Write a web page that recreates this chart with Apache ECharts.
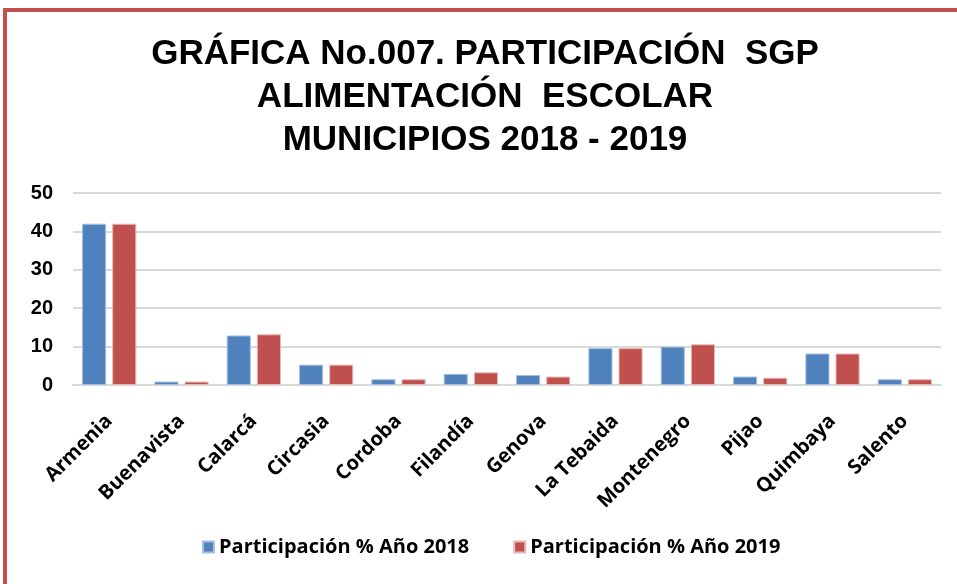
<!DOCTYPE html>
<html>
<head>
<meta charset="utf-8">
<script src="https://cdn.jsdelivr.net/npm/echarts@6/dist/echarts.min.js"></script>
<style>
  html, body { margin: 0; padding: 0; background: #fff; }
  #chart { width: 957px; height: 584px; }
</style>
</head>
<body>
<div id="chart"></div>
<script>
var municipios = ['Armenia', 'Buenavista', 'Calarcá', 'Circasia', 'Cordoba', 'Filandía', 'Genova', 'La Tebaida', 'Montenegro', 'Pijao', 'Quimbaya', 'Salento'];
var part2018 = [42.0, 0.9, 12.9, 5.3, 1.5, 2.9, 2.6, 9.6, 10.0, 2.2, 8.2, 1.5];
var part2019 = [42.0, 0.9, 13.2, 5.3, 1.5, 3.3, 2.2, 9.6, 10.6, 1.9, 8.2, 1.5];
var nombres = ['Participación % Año 2018', 'Participación % Año 2019'];

var chart = echarts.init(document.getElementById('chart'));
var option = {
    color: ['#4F81BD', '#C0504D'],
    animation: false,
    title: {
        text: 'GRÁFICA No.007. PARTICIPACIÓN  SGP\nALIMENTACIÓN  ESCOLAR\nMUNICIPIOS 2018 - 2019',
        left: 480,
        textAlign: 'center',
        top: 28,
        textStyle: {
            fontFamily: 'Liberation Sans, Arial',
            fontWeight: 'bold',
            fontSize: 35,
            lineHeight: 43,
            color: '#000'
        }
    },
    legend: {
        data: nombres,
        bottom: 22,
        left: 197,
        itemWidth: 11,
        itemHeight: 11,
        itemGap: 44,
        icon: 'rect',
        textStyle: {
            fontFamily: 'Open Sans',
            fontWeight: 'bold',
            fontSize: 20,
            color: '#000'
        }
    },
    grid: {
        left: 73,
        right: 16,
        top: 193,
        bottom: 199
    },
    xAxis: {
        type: 'category',
        data: municipios,
        axisTick: { show: false },
        axisLine: { lineStyle: { color: '#D9D9D9', width: 2 } },
        axisLabel: {
            rotate: 45,
            interval: 0,
            margin: 33,
            fontFamily: 'Open Sans',
            fontWeight: 'bold',
            fontSize: 20,
            color: '#000'
        }
    },
    yAxis: {
        type: 'value',
        min: 0,
        max: 50,
        interval: 10,
        axisLine: { show: false },
        axisTick: { show: false },
        splitLine: { lineStyle: { color: '#D9D9D9', width: 2 } },
        axisLabel: {
            margin: 20,
            fontFamily: 'Liberation Sans, Arial',
            fontWeight: 'bold',
            fontSize: 20,
            color: '#000'
        }
    },
    graphic: [{
        type: 'rect',
        shape: { x: 5, y: 10, width: 1200, height: 1200 },
        style: { fill: 'none', stroke: '#C0504D', lineWidth: 4 },
        silent: true
    }],
    series: [
        {
            name: nombres[0],
            type: 'bar',
            data: part2018,
            barGap: '25%',
            barCategoryGap: '25%',
            itemStyle: { borderColor: '#A7BFDE', borderWidth: 1 }
        },
        {
            name: nombres[1],
            type: 'bar',
            data: part2019,
            barGap: '25%',
            barCategoryGap: '25%',
            itemStyle: { borderColor: '#E6B9B8', borderWidth: 1 }
        }
    ]
};
chart.setOption(option);
</script>
</body>
</html>
